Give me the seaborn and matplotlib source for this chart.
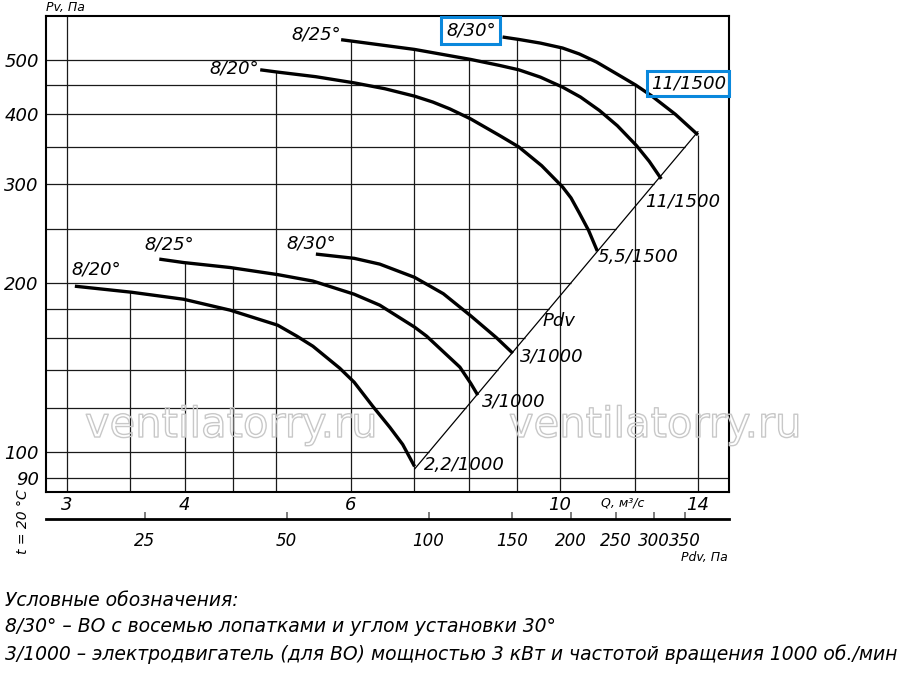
import numpy as np
import pandas as pd
import matplotlib
matplotlib.use('Agg')
import matplotlib.pyplot as plt
import matplotlib.patheffects as pe
from matplotlib import font_manager
from matplotlib.ticker import NullLocator
import seaborn as sns


# dynamic pressure coefficient, Pdv = K * Q^2
K_PDV = 1.9

# 1500 rpm curves (Q m3/s, Pv Pa)
q_u20 = [4.81, 5.02, 5.51, 6.05, 6.52, 7.01, 7.33, 7.64, 8.04, 8.63, 9.04, 9.56, 10.06, 10.27, 10.48, 10.72, 10.95]
p_u20 = [479.7, 475.2, 466.3, 454.7, 443.9, 430.6, 420.3, 408.7, 392.2, 366.3, 349.7, 323.8, 296.8, 283.7, 266.7, 248.3, 228.2]
q_u25 = [5.86, 6.05, 7.01, 8.04, 8.63, 9.04, 9.53, 10.06, 10.51, 11.01, 11.5, 12.05, 12.43, 12.8]
p_u25 = [542.7, 538.9, 521.5, 500.5, 488.3, 479.7, 465.5, 446.8, 429.0, 405.9, 381.4, 351.5, 329.6, 306.7]
q_u30 = [8.69, 9.04, 9.53, 10.06, 10.48, 10.93, 11.56, 12.02, 12.49, 13.25, 14.0]
p_u30 = [548.7, 543.3, 535.2, 524.5, 511.9, 495.2, 468.6, 450.8, 431.6, 399.6, 367.3]

# 1000 rpm curves
q_l20 = [3.06, 3.51, 3.99, 4.47, 5.02, 5.26, 5.47, 5.84, 6.05, 6.33, 6.6, 6.81, 7.01]
p_l20 = [197.6, 192.8, 187.3, 179.1, 168.4, 161.0, 154.5, 141.2, 133.3, 120.8, 110.8, 103.3, 94.4]
q_l25 = [3.76, 3.99, 4.47, 5.02, 5.47, 6.05, 6.44, 7.01, 7.22, 7.83, 8.04, 8.18]
p_l25 = [220.8, 217.7, 213.3, 207.2, 201.8, 191.2, 182.8, 167.1, 161.0, 141.8, 132.7, 126.4]
q_l30 = [5.51, 6.05, 6.44, 7.01, 7.52, 8.04, 8.56, 8.91]
p_l30 = [225.4, 221.5, 216.3, 204.9, 191.6, 175.0, 160.0, 150.1]

q_grid = [3, 3.5, 4, 4.5, 5, 6, 7, 8, 9, 10, 12, 14]
p_grid = [90, 100, 120, 140, 160, 180, 200, 250, 300, 350, 400, 450, 500]
q_ticks = [3, 4, 6, 10, 14]
p_ticks = [90, 100, 200, 300, 400, 500]
pdv_ticks = [25, 50, 100, 150, 200, 250, 300, 350]

curves = {
    'u20': (q_u20, p_u20), 'u25': (q_u25, p_u25), 'u30': (q_u30, p_u30),
    'l20': (q_l20, p_l20), 'l25': (q_l25, p_l25), 'l30': (q_l30, p_l30),
}

df = pd.concat([pd.DataFrame({'Q': q, 'P': p, 'curve': name})
                for name, (q, p) in curves.items()], ignore_index=True)

sns.set_theme(style='white')
plt.rcParams['font.family'] = ['DejaVu Sans']
plt.rcParams['font.style'] = 'italic'
plt.rcParams['text.color'] = 'black'

names = {f.name for f in font_manager.fontManager.ttflist}
NARROW = 'Liberation Sans Narrow' if 'Liberation Sans Narrow' in names else 'DejaVu Sans'

XMIN, XMAX = 2.85, 15.1
YMIN, YMAX = 85, 598

fig = plt.figure(figsize=(9, 6.82), dpi=100)
ax = fig.add_axes([0.0508, 0.2786, 0.7592, 0.6979])
ax.set_xscale('log')
ax.set_yscale('log')
ax.set_xlim(XMIN, XMAX)
ax.set_ylim(YMIN, YMAX)


def interp_log(q, qs, ps):
    return 10 ** np.interp(np.log10(q), np.log10(qs), np.log10(ps))


# vertical grid lines stop at the highest curve
for q in q_grid:
    tops = [interp_log(q, qs, ps) for qs, ps in curves.values() if qs[0] <= q <= qs[-1]]
    top = max(tops) if tops else YMAX
    ax.vlines(q, YMIN, top, colors='#1a1a1a', lw=0.9, zorder=1)

# horizontal grid lines stop at the Pdv line / top curve
p_lo = K_PDV * q_l20[-1] ** 2
p_hi = p_u30[-1]
for p in p_grid:
    if p < p_lo:
        right = XMAX
    elif p <= p_hi:
        right = np.sqrt(p / K_PDV)
    else:
        right = 10 ** np.interp(np.log10(p), np.log10(p_u30[::-1]), np.log10(q_u30[::-1]))
    ax.hlines(p, XMIN, right, colors='#1a1a1a', lw=0.9, zorder=1)

# Pdv diagonal
q_d = np.geomspace(q_l20[-1], q_u30[-1], 40)
ax.plot(q_d, K_PDV * q_d ** 2, color='black', lw=0.9, zorder=2)

for name, g in df.groupby('curve'):
    sns.lineplot(data=g, x='Q', y='P', ax=ax, color='black', lw=2.4,
                 sort=False, estimator=None, zorder=3,
                 solid_capstyle='butt', solid_joinstyle='round')

ax.set_xlabel('')
ax.set_ylabel('')
ax.set_xticks(q_ticks, [str(v) for v in q_ticks])
ax.set_yticks(p_ticks, [str(v) for v in p_ticks])
ax.xaxis.set_minor_locator(NullLocator())
ax.yaxis.set_minor_locator(NullLocator())
ax.tick_params(axis='both', length=0, labelsize=13, colors='black')
ax.tick_params(axis='x', pad=3)
ax.tick_params(axis='y', pad=5)
for s in ax.spines.values():
    s.set_color('black')
    s.set_linewidth(1.5)

# curve labels
lab = dict(fontsize=13, ha='center', va='center', zorder=5)
ax.text(4.52, 482, '8/20°', **lab)
ax.text(5.51, 554, '8/25°', **lab)
ax.text(8.04, 563, '8/30°', bbox=dict(boxstyle='square,pad=0.25', fc='none', ec='#0a88dc', lw=2.2), **lab)
ax.text(13.67, 453, '11/1500', bbox=dict(boxstyle='square,pad=0.2', fc='none', ec='#0a88dc', lw=2.2), **lab)
ax.text(13.5, 280, '11/1500', **lab)
ax.text(12.1, 223, '5,5/1500', **lab)
ax.text(9.98, 171, 'Pdv', **lab)
ax.text(9.79, 148, '3/1000', **lab)
ax.text(8.93, 123, '3/1000', **lab)
ax.text(7.92, 95, '2,2/1000', **lab)
ax.text(3.22, 212, '8/20°', **lab)
ax.text(3.85, 234, '8/25°', **lab)
ax.text(5.45, 235, '8/30°', **lab)

# watermark
wm_size = 40 if NARROW != 'DejaVu Sans' else 30
for xf in (0.2567, 0.7278):
    fig.text(xf, 0.3768, 'ventilatorry.ru', fontsize=wm_size, family=NARROW, style='normal',
             color='none', ha='center', va='center', zorder=0,
             path_effects=[pe.withStroke(linewidth=1.0, foreground='#c8c8c8')])

# Pdv scale under the Q axis
sec = ax.secondary_xaxis(-0.057, functions=(lambda q: K_PDV * q ** 2,
                                             lambda p: np.sqrt(np.maximum(p, 1e-9) / K_PDV)))
sec.set_ticks(pdv_ticks, [str(v) for v in pdv_ticks])
sec.xaxis.set_minor_locator(NullLocator())
sec.spines['bottom'].set_linewidth(2)
sec.spines['bottom'].set_color('black')
sec.tick_params(direction='in', length=5, width=1.2, color='#666666', pad=9,
                labelsize=12, labelcolor='black')

fig.text(46 / 900, 1 - 8 / 682, 'Pv, Па', fontsize=9, ha='left', va='center')
fig.text(623 / 900, 1 - 503 / 682, 'Q, м³/с', fontsize=9, ha='center', va='center')
fig.text(728 / 900, 1 - 558 / 682, 'Pdv, Па', fontsize=9, ha='right', va='center')
fig.text(22.7 / 900, 1 - 522 / 682, 't = 20 °C', fontsize=10, rotation=90, ha='center', va='center')

leg = ['Условные обозначения:',
       '8/30° – ВО с восемью лопатками и углом установки 30°',
       '3/1000 – электродвигатель (для ВО) мощностью 3 кВт и частотой вращения 1000 об./мин']
for i, line in enumerate(leg):
    fig.text(5 / 900, 1 - (600 + 27 * i) / 682, line, fontsize=13.5, ha='left', va='center')

fig.savefig('out.png', dpi=100)
